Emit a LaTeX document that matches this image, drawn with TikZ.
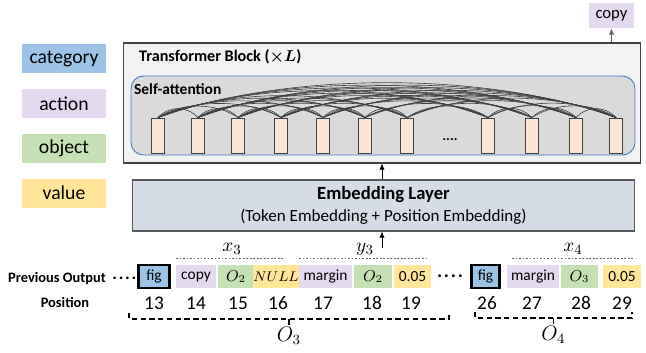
\documentclass[tikz,border=0pt]{standalone}
\usepackage{fontspec}
\setmainfont{Carlito}
\usepackage{bm}
\usetikzlibrary{arrows.meta,calc}
\definecolor{CatClr}{HTML}{9DC3E6}
\definecolor{ActClr}{HTML}{E4DAEF}
\definecolor{ObjClr}{HTML}{C5E0B4}
\definecolor{ValClr}{HTML}{FFE699}
\definecolor{BlockClr}{HTML}{F2F2F2}
\definecolor{AttnClr}{HTML}{DADADA}
\definecolor{AttnEdge}{HTML}{4472C4}
\definecolor{TokClr}{HTML}{FBE5D6}
\definecolor{EmbClr}{HTML}{D6DCE5}

\begin{document}
\begin{tikzpicture}[x=0.02cm,y=-0.02cm,
  legend/.style={fill=#1,minimum width=1.68cm,minimum height=0.58cm,inner sep=0pt,
    font=\fontsize{11.2}{13}\selectfont},
  attn/.style={draw=black!75,fill=TokClr,line width=0.5pt,minimum width=0.26cm,
    minimum height=0.7cm,inner sep=0pt},
  link/.style={draw=black!75,line width=0.35pt},
  item/.style={fill=#1,minimum height=0.46cm,inner sep=0pt,font=\fontsize{8.8}{10}\selectfont},
  first/.style={item=CatClr,draw=black,line width=1.3pt},
  num/.style={font=\fontsize{11}{13}\selectfont},
  head/.style={font=\bfseries\fontsize{8.2}{10}\selectfont},
  grp/.style={draw=black!60,line width=0.4pt,dash pattern=on 1pt off 1pt},
  brace/.style={line width=0.6pt,dash pattern=on 3pt off 2pt},
  arr/.style={-{Latex[length=3.5pt,width=3pt]},line width=0.4pt}]
\useasboundingbox (0,0) rectangle (646,352);

% legend
\node[legend=CatClr] (cat) at (64,58.5) {category};
\node[legend=ActClr] (act) at (64,103.5) {action};
\node[legend=ObjClr] (obj) at (64,148.5) {object};
\node[legend=ValClr] (val) at (64,193) {value};

% transformer block
\node[draw=black!75,fill=BlockClr,line width=0.6pt,minimum width=10.36cm,
  minimum height=2.4cm] (blk) at (382,103) {};
\node[anchor=west,font=\bfseries\fontsize{9.2}{11}\selectfont] at (133,57)
  {Transformer Block ($\bm{\times L}$)};
\node[draw=AttnEdge,fill=AttnClr,line width=0.5pt,rounded corners=0.25cm,
  minimum width=10.08cm,minimum height=1.58cm] (sa) at (383,115.5) {};

\def\tokx{{158,198,238,281,323,365,407,488,532,576,616}}
\foreach \x [count=\i] in {158,198,238,281,323,365,407,488,532,576,616}
  \node[attn] (t\i) at (\x,135.5) {};
\node[font=\bfseries\fontsize{8}{10}\selectfont] (gap) at (450,140) {....};

% attention links between all token pairs
\foreach \i in {1,...,10}{
  \pgfmathtruncatemacro{\nxt}{\i+1}
  \foreach \j in {\nxt,...,11}{
    \pgfmathsetmacro{\D}{\tokx[\j-1]-\tokx[\i-1]}
    \pgfmathsetmacro{\h}{(6.5+0.062*\D)/0.75}
    \pgfmathsetmacro{\s}{0.28*\D}
    \draw[link] (t\i.north) .. controls +(\s,-\h) and +(-\s,-\h) .. (t\j.north);
  }
}
\node[anchor=west,font=\bfseries\fontsize{8.8}{11}\selectfont,inner sep=1pt] at (132,89)
  {Self-attention};

% output
\node[item=ActClr,minimum width=0.9cm,minimum height=0.5cm,
  font=\fontsize{9.5}{11}\selectfont] (out) at (611.5,15.5) {copy};
\draw[arr,draw=black!60] (out.south |- blk.north) -- (out.south);

% embedding layer
\node[draw=black!65,fill=EmbClr,line width=0.6pt,minimum width=10.06cm,
  minimum height=1.02cm,align=center,inner sep=0pt] (emb) at (383.5,205.5)
  {{\bfseries\fontsize{10.6}{12}\selectfont Embedding Layer}\\[1pt]
   {\fontsize{9.7}{11}\selectfont (Token Embedding + Position Embedding)}};
\coordinate (feed) at (382,248);
\draw[arr] (feed) -- (feed |- emb.south);
\draw[arr] (emb.north -| feed) -- (blk.south -| feed);

% previous output tokens
\node[head,anchor=east] (prev) at (112,279) {Previous Output};
\node[font=\bfseries\fontsize{10}{12}\selectfont,anchor=west,inner sep=0pt] (dots) at (112,278.5) {.\kern1pt.\kern1pt.\kern1pt.};
\node[head] (posl) at (65,302) {Position};

\node[first,minimum width=0.62cm] (k13) at (154,276.5) {fig};
\node[item=ActClr,minimum width=0.8cm] (k14) at (196,276.5) {copy};
\node[item=ObjClr,minimum width=0.72cm] (k15) at (236,276.5) {$O_2$};
\node[item=ValClr,minimum width=0.76cm,font=\fontsize{7.6}{9}\selectfont] (k16) at (276,276.5) {$NULL$};
\node[item=ActClr,minimum width=1.06cm] (k17) at (325.5,276.5) {margin};
\node[item=ObjClr,minimum width=0.76cm] (k18) at (373,276.5) {$O_2$};
\node[item=ValClr,minimum width=0.74cm] (k19) at (412.5,276.5) {0.05};
\node[font=\bfseries\fontsize{11}{12}\selectfont] (skip) at (450,276) {.\kern1pt.\kern1pt.\kern1pt.};
\node[first,minimum width=0.56cm] (k26) at (485.5,276.5) {fig};
\node[item=ActClr,minimum width=1.04cm] (k27) at (533,276.5) {margin};
\node[item=ObjClr,minimum width=0.74cm] (k28) at (579.5,276.5) {$O_3$};
\node[item=ValClr,minimum width=0.76cm] (k29) at (622,276.5) {0.05};

\foreach \k/\x in {13/154,14/196,15/238,16/278,17/323,18/372,19/411,26/487,27/532,28/581,29/622}
  \node[num] (n\k) at (\x,303) {\k};

% groups above the tokens
\draw[grp] (176,258) -- (283,258);
\node[num] at (232,249) {$x_3$};
\draw[grp] (299,258) -- (427,258);
\node[num] at (365,249) {$y_3$};
\draw[grp] (512,258) -- (635,258);
\node[num] at (573,249) {$x_4$};

% outputs below the positions
\draw[brace] (129,313) -- (129,319) -- (449,319) -- (449,313);
\draw[line width=0.6pt] (289,319) -- (289,325);
\node[num,font=\fontsize{11.5}{13}\selectfont] at (289,336) {$O_3$};
\draw[brace] (475,312) -- (475,318) -- (632,318) -- (632,312);
\draw[line width=0.6pt] (553.5,318) -- (553.5,324);
\node[num,font=\fontsize{11.5}{13}\selectfont] at (553.5,335) {$O_4$};
\end{tikzpicture}
\end{document}
